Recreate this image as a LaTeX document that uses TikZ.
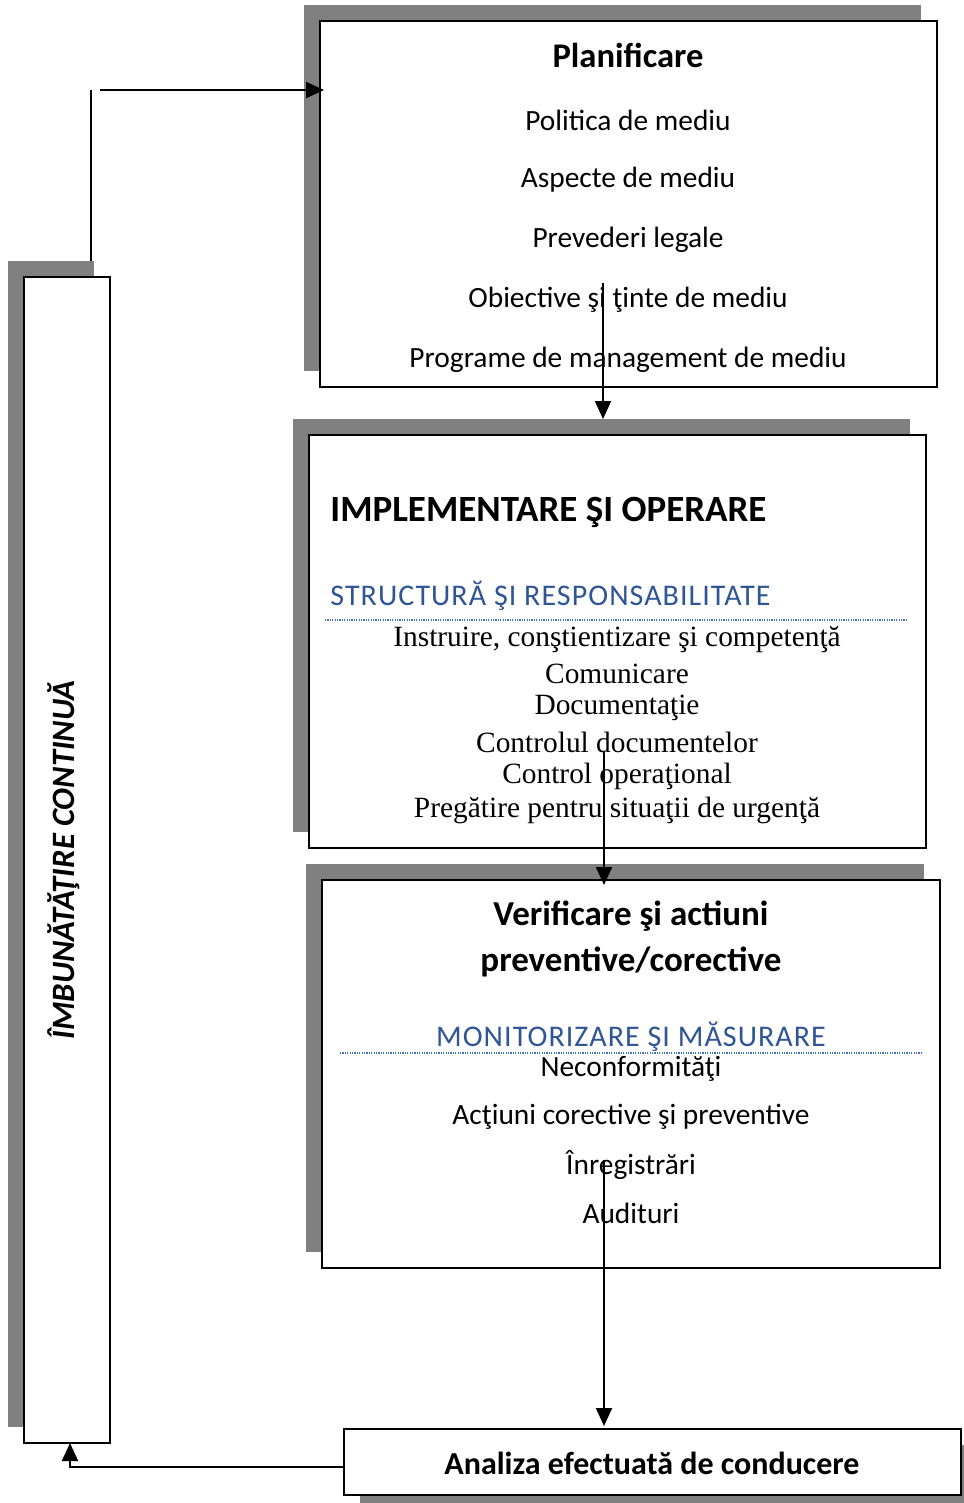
\documentclass[tikz,border=0pt]{standalone}
\usepackage{fontspec}
\setmainfont{Carlito}
\newfontfamily\serifrm{Liberation Serif}
\newfontfamily\spacedsans[LetterSpace=3.5]{Carlito}
\usetikzlibrary{arrows.meta}
\definecolor{shadowgray}{HTML}{808080}
\definecolor{headblue}{HTML}{2F5597}
\definecolor{dotblue}{HTML}{4472C4}
\tikzset{
  frame/.style={draw=black, line width=1.1pt, fill=white, inner sep=0pt},
  shadowbox/.style={fill=shadowgray, draw=none, inner sep=0pt},
  txt/.style={inner sep=0pt, anchor=center},
  conn/.style={line width=1pt, -{Triangle[length=9pt,width=8pt]}},
  plainline/.style={line width=0.8pt},
  dotsep/.style={dotblue, line width=0.6pt, dash pattern=on 0.6pt off 0.6pt},
  listsans/.style={font=\fontsize{14.7}{17}\selectfont},
  listserif/.style={font=\serifrm\fontsize{14.7}{17}\selectfont},
  bluehead/.style={font=\spacedsans\fontsize{15}{18}\selectfont, text=headblue},
}
\begin{document}
\begin{tikzpicture}[x=0.5pt,y=-0.5pt]
\useasboundingbox (0,0) rectangle (963,1503);
% shadows
\node[shadowbox, minimum width=308.5pt, minimum height=183pt] (s1) at (612.5,188) {};
\node[shadowbox, minimum width=308.5pt, minimum height=206.5pt] (s2) at (601.5,625.5) {};
\node[shadowbox, minimum width=309pt, minimum height=194pt] (s3) at (615,1058) {};
\node[shadowbox, minimum width=43pt, minimum height=583pt] (s4) at (51,844) {};
\node[shadowbox, minimum width=308.5pt, minimum height=33pt] (s5) at (668.5,1478) {};
% frames
\node[frame, minimum width=308.5pt, minimum height=183pt] (b1) at (628.5,204) {};
\node[frame, minimum width=308.5pt, minimum height=206.5pt] (b2) at (617.5,641.5) {};
\node[frame, minimum width=309pt, minimum height=194pt] (b3) at (631,1074) {};
\node[frame, minimum width=43pt, minimum height=583pt] (b4) at (67,860) {};
\node[frame, minimum width=308.5pt, minimum height=33pt] (b5) at (652.5,1462) {};
% box 1 texts
\node[txt, font=\fontsize{17.3}{20}\selectfont\bfseries] (t11) at (628,55) {Planificare};
\node[txt, listsans] (t12) at (628,120) {Politica de mediu};
\node[txt, listsans] (t13) at (628,180) {Aspecte de mediu};
\node[txt, listsans] (t14) at (628,240) {Prevederi legale};
\node[txt, listsans] (t15) at (628,300) {Obiective şi ţinte de mediu};
\node[txt, listsans] (t16) at (628,360) {Programe de management de mediu};
% box 2 texts
\node[txt, anchor=west, font=\fontsize{18.5}{22}\selectfont\bfseries] (t21) at (330,512) {IMPLEMENTARE ŞI OPERARE};
\node[txt, anchor=west, bluehead] (t22) at (330,596) {STRUCTURĂ ŞI RESPONSABILITATE};
\draw[dotsep] (325,620) -- (907,620);
\node[txt, listserif] (t23) at (617,640) {Instruire, conştientizare şi competenţă};
\node[txt, listserif] (t24) at (617,674) {Comunicare};
\node[txt, listserif] (t25) at (617,708) {Documentaţie};
\node[txt, listserif] (t26) at (617,742) {Controlul documentelor};
\node[txt, listserif] (t27) at (617,776) {Control operaţional};
\node[txt, listserif] (t28) at (617,810) {Pregătire pentru situaţii de urgenţă};
% box 3 texts
\node[txt, font=\fontsize{17.5}{21}\selectfont\bfseries] (t31) at (631,916) {Verificare şi actiuni};
\node[txt, font=\fontsize{17.5}{21}\selectfont\bfseries] (t32) at (631,962) {preventive/corective};
\node[txt, bluehead] (t33) at (631,1037) {MONITORIZARE ŞI MĂSURARE};
\draw[dotsep] (340,1053) -- (921,1053);
\node[txt, listsans] (t34) at (631,1069) {Neconformităţi};
\node[txt, listsans] (t35) at (631,1117) {Acţiuni corective şi preventive};
\node[txt, listsans] (t36) at (631,1165) {Înregistrări};
\node[txt, listsans] (t37) at (631,1213) {Audituri};
% left text
\node[txt, rotate=90, font=\fontsize{16.3}{19}\selectfont\bfseries\itshape] (t41) at (64,860) {ÎMBUNĂTĂŢIRE CONTINUĂ};
% bottom text
\node[txt, font=\fontsize{16}{19}\selectfont\bfseries] (t51) at (652,1463) {Analiza efectuată de conducere};
% connectors
\coordinate (a1s) at (603,283);
\coordinate (a1e) at (603,419);
\coordinate (a2s) at (604,752);
\coordinate (a2e) at (604,885);
\coordinate (a3s) at (604,1160);
\coordinate (a3e) at (604,1426);
\coordinate (ls) at (91,261);
\coordinate (lt) at (91,90);
\coordinate (hs) at (100,90);
\coordinate (he) at (324,90);
\coordinate (be) at (70,1443);
\draw[conn] (a1s) -- (a1e);
\draw[conn] (a2s) -- (a2e);
\draw[conn] (a3s) -- (a3e);
\draw[plainline] (ls) -- (lt);
\draw[conn] (hs) -- (he);
\draw[conn] (b5.west |- 0,1467) -| (be);
\end{tikzpicture}
\end{document}
